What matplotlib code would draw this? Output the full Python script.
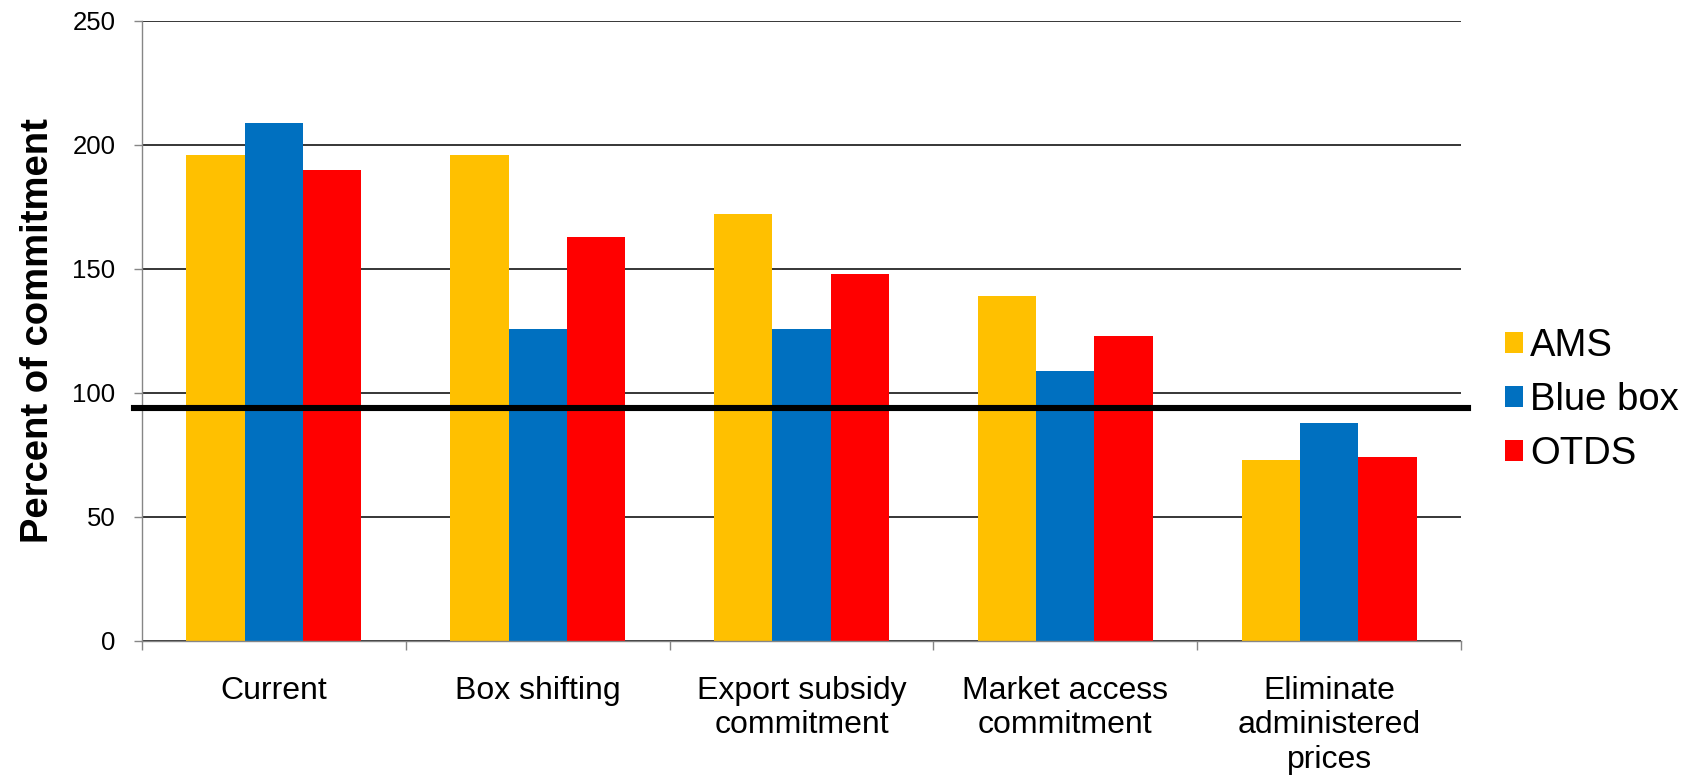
import matplotlib
matplotlib.use("Agg")
import matplotlib.pyplot as plt
import numpy as np
from matplotlib.patches import Patch

plt.rcParams['font.family'] = ['Liberation Sans', 'DejaVu Sans']

categories = ["Current", "Box shifting", "Export subsidy\ncommitment",
              "Market access\ncommitment", "Eliminate\nadministered\nprices"]
series_names = ["AMS", "Blue box", "OTDS"]
ams = [196, 196, 172, 139, 73]
blue_box = [209, 126, 126, 109, 88]
otds = [190, 163, 148, 123, 74]
threshold = 94
yticks = [0, 50, 100, 150, 200, 250]

colors = ["#FFC000", "#0070C0", "#FF0000"]
values = [ams, blue_box, otds]

fig = plt.figure(figsize=(16.92, 7.78), dpi=100)
ax = fig.add_axes([142/1692, 1-641/778, (1461-142)/1692, (641-21)/778])

x = np.arange(len(categories))
w = 0.221
for i, (vals, c) in enumerate(zip(values, colors)):
    ax.bar(x + (i-1)*w, vals, width=w, color=c, zorder=2, linewidth=0)

ax.set_xlim(-0.5, len(categories)-0.5)
ax.set_ylim(0, 250)
ax.set_yticks(yticks)
ax.yaxis.grid(True, color='black', linewidth=1.1, zorder=0)
ax.set_axisbelow(True)

# threshold line
ax.axhline(threshold, xmin=-8/1319, xmax=1+7/1319, color='black', linewidth=4.4,
           zorder=5, clip_on=False)

for s in ['top', 'right']:
    ax.spines[s].set_visible(False)
for s in ['left', 'bottom']:
    ax.spines[s].set_color('#868686')
    ax.spines[s].set_linewidth(1.0)
    ax.spines[s].set_zorder(3)

ax.set_xticks(x)
ax.set_xticklabels(categories, fontsize=23, linespacing=1.2)
ax.tick_params(axis='x', which='major', length=0, pad=25)
ax.set_xticks(np.arange(-0.5, len(categories)), minor=True)
ax.tick_params(axis='x', which='minor', length=6.5, color='#868686', width=1.0)
ax.tick_params(axis='y', length=6, color='#868686', width=1.0, labelsize=18.5, pad=13)

ax.set_ylabel("Percent of commitment", fontsize=27.5, fontweight='bold')
ax.yaxis.set_label_coords(-(142-56)/1319, 0.5)

handles = [Patch(facecolor=c, edgecolor='none') for c in colors]
leg = fig.legend(handles, series_names, loc='center left',
                 bbox_to_anchor=(1505/1692, 1-400/778), frameon=False,
                 fontsize=27.5, handlelength=0.48, handleheight=0.48,
                 handletextpad=0.17, labelspacing=0.47, borderpad=0, borderaxespad=0)

fig.savefig("out.png", dpi=100)
